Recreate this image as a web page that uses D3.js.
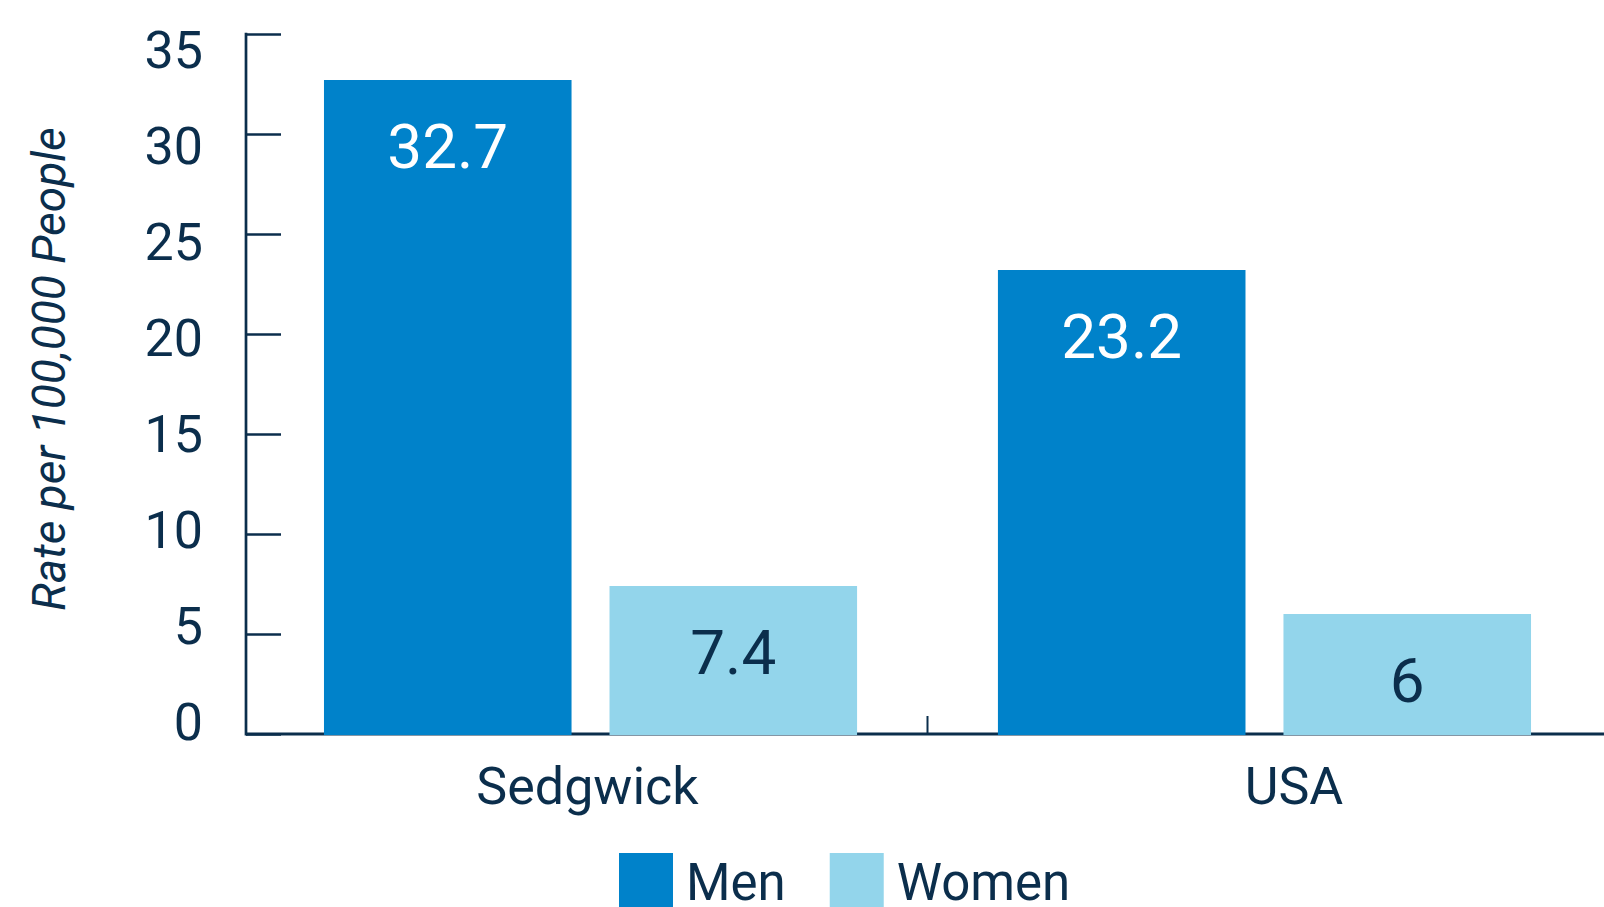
<!DOCTYPE html>
<html>
<head>
<meta charset="utf-8">
<script src="https://cdn.jsdelivr.net/npm/d3@7"></script>
<style>
  html, body { margin: 0; padding: 0; background: #fff; }
  svg { display: block; font-family: Roboto, "Noto Sans", sans-serif; }
</style>
</head>
<body>
<svg id="chart" width="1604" height="907"></svg>
<script>
(function () {
  const categories = ["Sedgwick", "USA"];
  const series = ["Men", "Women"];
  const men = [32.7, 23.2];
  const women = [7.4, 6];
  const yTicks = [0, 5, 10, 15, 20, 25, 30, 35];
  const yTitle = "Rate per 100,000 People";

  const colors = { Men: "#0082ca", Women: "#93d5eb" };
  const ink = "#0b2e4c";

  const svg = d3.select("#chart");

  const rows = categories.map((c, i) => ({ category: c, Men: men[i], Women: women[i] }));

  // Scales
  const y = d3.scaleLinear().domain([0, 35]).range([734, 34]);
  // tick labels sit on a slightly tighter spacing than the ticks in the original
  const yLabel = d3.scaleLinear().domain([0, 35]).range([740, 68]);

  const x0 = d3.scaleBand().domain(categories).range([246, 1609])
    .paddingInner(0.209).paddingOuter(0.1157);
  const x1 = d3.scaleBand().domain(series).range([0, x0.bandwidth()])
    .paddingInner(0.133);
  const xLabel = d3.scalePoint().domain(categories).range([587.5, 1294]);

  // Baseline (behind bars)
  svg.append("line")
    .attr("x1", 246).attr("x2", 1604)
    .attr("y1", y(0)).attr("y2", y(0))
    .attr("stroke", ink).attr("stroke-width", 3);

  // Middle tick between groups
  const midX = x0("USA") - x0.step() * x0.paddingInner() / 2;
  svg.append("line")
    .attr("x1", midX).attr("x2", midX)
    .attr("y1", y(0)).attr("y2", y(0) - 18)
    .attr("stroke", ink).attr("stroke-width", 2);

  // Y axis
  const yAxis = svg.append("g")
    .attr("transform", "translate(246,0)")
    .call(d3.axisRight(y).tickValues(yTicks).tickSize(35).tickFormat(""));
  yAxis.select(".domain").remove();
  yAxis.selectAll(".tick line").attr("stroke", ink).attr("stroke-width", 2.5);
  svg.append("line")
    .attr("x1", 246).attr("x2", 246)
    .attr("y1", y(35) - 1.25).attr("y2", y(0) + 1.5)
    .attr("stroke", ink).attr("stroke-width", 2.7);

  svg.append("g").selectAll("text")
    .data(yTicks)
    .join("text")
    .attr("x", 203)
    .attr("y", d => yLabel(d))
    .attr("text-anchor", "end")
    .attr("fill", ink)
    .attr("font-size", 52)
    .text(d => d);

  // Y title
  svg.append("text")
    .attr("transform", "translate(65,369) rotate(-90)")
    .attr("text-anchor", "middle")
    .attr("fill", ink)
    .attr("font-size", 46)
    .attr("font-style", "italic")
    .text(yTitle);

  // Bars
  const groups = svg.append("g").selectAll("g")
    .data(rows)
    .join("g")
    .attr("transform", d => `translate(${x0(d.category)},0)`);

  groups.selectAll("rect")
    .data(d => series.map(s => ({ key: s, value: d[s] })))
    .join("rect")
    .attr("x", d => x1(d.key))
    .attr("y", d => y(d.value))
    .attr("width", x1.bandwidth())
    .attr("height", d => y(0) - y(d.value) + 1)
    .attr("fill", d => colors[d.key]);

  groups.selectAll("text")
    .data(d => series.map(s => ({ key: s, value: d[s] })))
    .join("text")
    .attr("x", d => x1(d.key) + x1.bandwidth() / 2)
    .attr("y", d => y(d.value) + 88)
    .attr("text-anchor", "middle")
    .attr("font-size", 62)
    .attr("fill", d => d.key === "Men" ? "#fff" : ink)
    .text(d => d.value);

  // Category labels
  svg.append("g").selectAll("text")
    .data(categories)
    .join("text")
    .attr("x", d => xLabel(d))
    .attr("y", 804)
    .attr("text-anchor", "middle")
    .attr("fill", ink)
    .attr("font-size", 52)
    .text(d => d);

  // Legend
  const legend = svg.append("g").attr("transform", "translate(619,853)");
  let lx = 0;
  series.forEach(s => {
    legend.append("rect")
      .attr("x", lx).attr("y", 0)
      .attr("width", 54).attr("height", 60)
      .attr("fill", colors[s]);
    const t = legend.append("text")
      .attr("x", lx + 67).attr("y", 47)
      .attr("fill", ink)
      .attr("font-size", 51)
      .text(s);
    lx += 67 + t.node().getComputedTextLength() + 44;
  });
})();
</script>
</body>
</html>
